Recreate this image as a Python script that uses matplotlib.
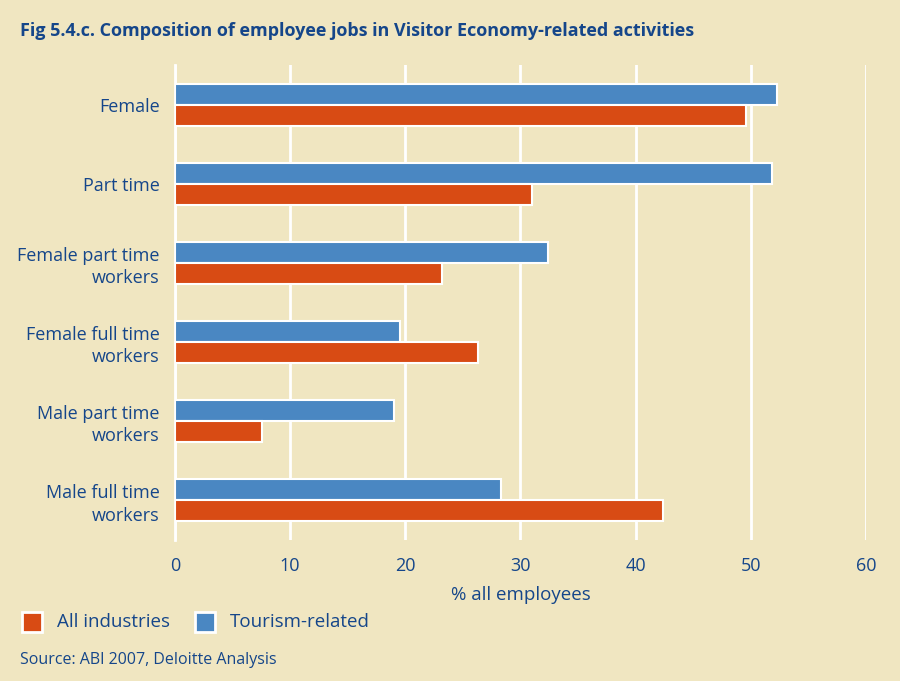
"""
Fig 5.4.c — composition of employee jobs in Visitor Economy-related activities.
Horizontal grouped bars: tourism-related vs all industries, % of employees.
"""

import matplotlib.pyplot as plt
import numpy as np
from matplotlib.patches import Rectangle

CATEGORIES = [
    "Female",
    "Part time",
    "Female part time\nworkers",
    "Female full time\nworkers",
    "Male part time\nworkers",
    "Male full time\nworkers",
]
TOURISM = [52.3, 51.8, 32.4, 19.5, 19.0, 28.3]
ALL_IND = [49.6, 31.0, 23.2, 26.3, 7.6, 42.4]
X_TICKS = [0, 10, 20, 30, 40, 50, 60]

BG = "#F0E6C1"
TEXT = "#15468A"
BLUE = "#4A87C2"
ORANGE = "#D84B14"

plt.rcParams.update({
    "font.family": ["Open Sans", "DejaVu Sans"],
    "font.size": 13,
})

fig = plt.figure(figsize=(9, 6.81), dpi=100, facecolor=BG)
ax = fig.add_axes([0.1944, 0.207, 0.7678, 0.6976], facecolor=BG)

y = np.arange(len(CATEGORIES))
h = 0.265
ax.barh(y - h / 2, TOURISM, height=h, color=BLUE, edgecolor="white",
        linewidth=1.5, zorder=3)
ax.barh(y + h / 2, ALL_IND, height=h, color=ORANGE, edgecolor="white",
        linewidth=1.5, zorder=3)

ax.set_xlim(0, 60)
ax.set_ylim(len(CATEGORIES) - 0.5, -0.5)
ax.set_xticks(X_TICKS)
ax.set_yticks(y)
ax.set_yticklabels(CATEGORIES, ha="right", multialignment="right", linespacing=1.3)
ax.tick_params(length=0, colors=TEXT, labelsize=13)
ax.tick_params(axis="x", pad=12)
ax.tick_params(axis="y", pad=11)
ax.grid(axis="x", color="white", linewidth=2, zorder=0)
for side in ("top", "right", "bottom"):
    ax.spines[side].set_visible(False)
ax.spines["left"].set_color("white")
ax.spines["left"].set_linewidth(2)
ax.set_xlabel("% all employees", color=TEXT, fontsize=13.5, labelpad=8)

fig.text(20 / 900, 1 - 31 / 681, "Fig 5.4.c. Composition of employee jobs in Visitor Economy-related activities",
         color=TEXT, fontsize=13, fontweight="bold", va="center")

# legend drawn by hand to match the print layout
for x0, label, col in [(22, "All industries", ORANGE), (195, "Tourism-related", BLUE)]:
    fig.patches.append(Rectangle((x0 / 900, 1 - 632 / 681), 20 / 900, 20 / 681,
                                 transform=fig.transFigure, facecolor=col,
                                 edgecolor="white", linewidth=2))
    fig.text((x0 + 35) / 900, 1 - 622 / 681, label, color=TEXT, fontsize=13.5, va="center")

fig.text(20 / 900, 1 - 660 / 681, "Source: ABI 2007, Deloitte Analysis",
         color=TEXT, fontsize=11.5, va="center")

fig.savefig("out.png", dpi=100, facecolor=BG)
